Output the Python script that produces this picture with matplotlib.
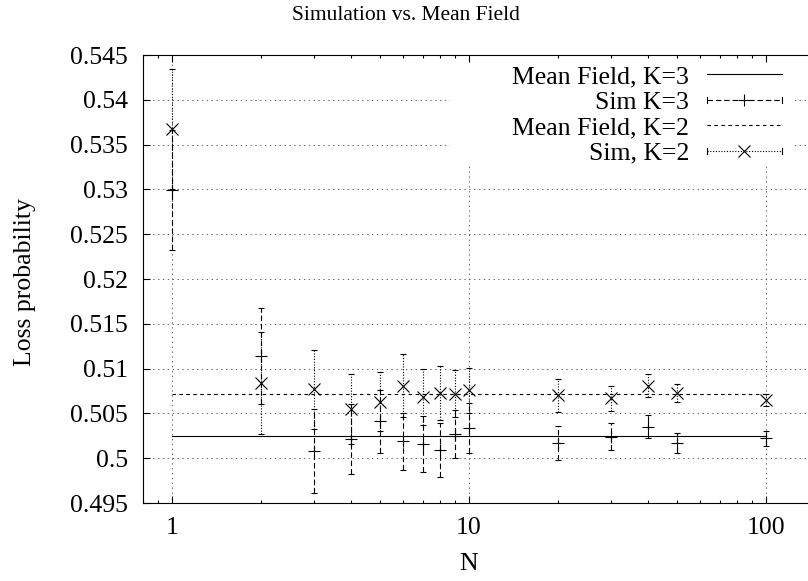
import matplotlib
matplotlib.use("Agg")
import matplotlib.pyplot as plt
from matplotlib.lines import Line2D
from matplotlib.patches import Rectangle
from matplotlib.legend_handler import HandlerLine2D
from matplotlib.ticker import NullFormatter

# Data
n_values = [1, 2, 3, 4, 5, 6, 7, 8, 9, 10, 20, 30, 40, 50, 100]
mf_n = [1, 100]
mf_k3 = [0.50245, 0.50245]
mf_k2 = [0.50715, 0.50715]
sim_k3 = [0.5299, 0.5114, 0.5008, 0.5021, 0.5041, 0.5019, 0.5016, 0.5009,
          0.5027, 0.5034, 0.5017, 0.5024, 0.5035, 0.5017, 0.5022]
err_k3 = [0.0067, 0.0054, 0.0047, 0.0039, 0.0035, 0.0032, 0.0031, 0.0030,
          0.0027, 0.0028, 0.0019, 0.0015, 0.0013, 0.0011, 0.0008]
sim_k2 = [0.5367, 0.5084, 0.5077, 0.5055, 0.5063, 0.5081, 0.5068, 0.5073,
          0.5072, 0.5076, 0.5070, 0.5067, 0.5081, 0.5073, 0.5065]
err_k2 = [0.0067, 0.0057, 0.0044, 0.0039, 0.0033, 0.0035, 0.0031, 0.0030,
          0.0026, 0.0025, 0.0018, 0.0014, 0.0013, 0.0010, 0.0007]

x_ticks = [1, 10, 100]
y_ticks = [0.495, 0.5, 0.505, 0.51, 0.515, 0.52, 0.525, 0.53, 0.535, 0.54, 0.545]

plt.rcParams['font.family'] = 'Liberation Serif'
plt.rcParams['lines.scale_dashes'] = False

LW = 0.8
DASH_SIM3 = (0, (4, 2))
DASH_MF2 = (0, (2.5, 2.5))
DOT_SIM2 = (0, (0.8, 1.2))


# legend handler drawing gnuplot-style end caps on the sample line
class CappedHandler(HandlerLine2D):
    def create_artists(self, legend, orig_handle, xdescent, ydescent,
                       width, height, fontsize, trans):
        arts = super().create_artists(legend, orig_handle, xdescent, ydescent,
                                      width, height, fontsize, trans)
        line = arts[0]
        xs = line.get_xdata()
        y = line.get_ydata()[0]
        caps = [Line2D([x, x], [y - 2, y + 2], color='k', lw=LW, transform=trans)
                for x in (xs[0], xs[-1])]
        return arts + caps


fig = plt.figure(figsize=(8.08, 5.81), dpi=100)
ax = fig.add_axes([143.2 / 808, 78 / 581, 675.1 / 808, 448 / 581])
ax.set_xscale('log')
ax.set_xlim(0.8, 150)
ax.set_ylim(0.495, 0.545)

# grid (drawn by hand so the key box can blank it but not the ticks)
for t in y_ticks:
    ax.axhline(t, color='0.3', lw=0.6, ls=(0, (1, 2.5)), zorder=0.5)
for t in x_ticks:
    ax.axvline(t, color='0.3', lw=0.6, ls=(0, (1, 2.5)), zorder=0.5)
ax.add_patch(Rectangle((0.4545, 0.754), 0.511, 0.26, transform=ax.transAxes,
                       facecolor='white', edgecolor='none', zorder=0.8))

ax.plot(mf_n, mf_k3, color='k', lw=LW, zorder=2)
eb3 = ax.errorbar(n_values, sim_k3, yerr=err_k3, fmt='+', color='k', ms=9,
                  mew=LW, elinewidth=LW, capsize=2.2, capthick=LW, zorder=2)
eb3[2][0].set_linestyle(DASH_SIM3)
ax.plot(mf_n, mf_k2, color='k', lw=LW, ls=DASH_MF2, zorder=2)
eb2 = ax.errorbar(n_values, sim_k2, yerr=err_k2, fmt='x', color='k', ms=9,
                  mew=LW, elinewidth=LW, capsize=2.2, capthick=LW, zorder=2)
eb2[2][0].set_linestyle(DOT_SIM2)

ax.set_xticks(x_ticks, labels=['1', '10', '100'])
ax.xaxis.set_minor_formatter(NullFormatter())
ax.set_yticks(y_ticks, labels=['%g' % v for v in y_ticks])
ax.tick_params(which='both', direction='in', top=True, right=True,
               width=LW, labelsize=18.5)
ax.tick_params(which='major', length=5)
ax.tick_params(which='minor', length=2.5)
ax.tick_params(axis='x', pad=10)
ax.tick_params(axis='y', pad=11)
for sp in ax.spines.values():
    sp.set_linewidth(LW)

ax.set_xlabel('N', fontsize=18.5)
ax.xaxis.set_label_coords(0.4826, -0.1116)
ax.set_ylabel('Loss probability', fontsize=18.5)
ax.yaxis.set_label_coords(-0.159, 0.493)
fig.text(405.5 / 808, 1 - 15 / 581, 'Simulation vs. Mean Field',
         ha='center', va='center', fontsize=15.5)

handles = [
    Line2D([], [], color='k', lw=LW),
    Line2D([], [], color='k', lw=LW, ls=DASH_SIM3, marker='+', ms=9, mew=LW),
    Line2D([], [], color='k', lw=LW, ls=DASH_MF2),
    Line2D([], [], color='k', lw=LW, ls=DOT_SIM2, marker='x', ms=9, mew=LW),
]
labels = ['Mean Field, K=3', 'Sim K=3', 'Mean Field, K=2', 'Sim, K=2']
leg = ax.legend(handles, labels, loc='upper right',
                bbox_to_anchor=(0.961, 1.0), borderaxespad=0, borderpad=0.4,
                frameon=False, markerfirst=False, handlelength=2.9,
                handletextpad=0.7, labelspacing=0.1, fontsize=18.5,
                handler_map={handles[1]: CappedHandler(),
                             handles[3]: CappedHandler()})

fig.savefig('out.png', dpi=100)
